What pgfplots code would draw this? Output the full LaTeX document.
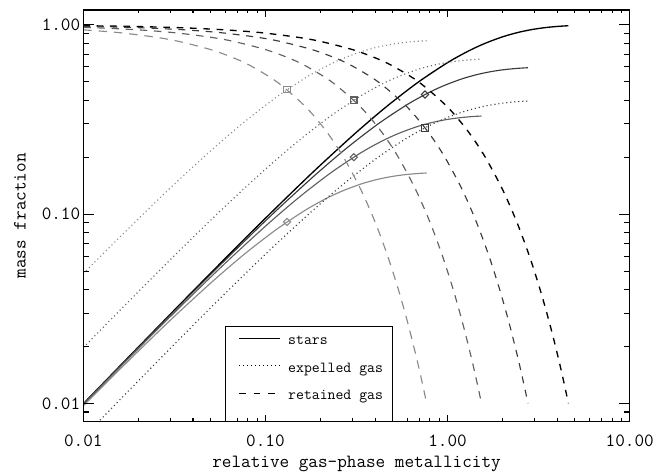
\documentclass[border=0pt]{standalone}
\usepackage{pgfplots}
\usepackage{pgfplotstable}
\pgfplotsset{compat=1.18}

\definecolor{cA}{HTML}{000000}
\definecolor{cB}{HTML}{3A3A3A}
\definecolor{cC}{HTML}{606060}
\definecolor{cD}{HTML}{8A8A8A}
\tikzset{
  dA/.style={dash pattern=on 5pt off 5pt},
  dB/.style={dash pattern=on 5.2pt off 5pt},
  dC/.style={dash pattern=on 5.6pt off 5pt},
  dD/.style={dash pattern=on 6.3pt off 5.2pt},
  dt/.style={dash pattern=on 0.8pt off 2.2pt},
}
\newcommand{\lbl}{\fontsize{14}{16}\selectfont\ttfamily}
\newcommand{\lgd}{\fontsize{11.5}{13}\selectfont\ttfamily}

% eta = 0 : x, stars, retained gas
\pgfplotstableread{
x s g
0.01 0.00995 0.99005
0.015 0.014888 0.985112
0.02 0.019801 0.980199
0.03 0.029554 0.970446
0.04 0.039211 0.960789
0.06 0.058235 0.941765
0.08 0.076884 0.923116
0.1 0.095163 0.904837
0.15 0.139292 0.860708
0.2 0.181269 0.818731
0.3 0.259182 0.740818
0.4 0.32968 0.67032
0.5 0.393469 0.606531
0.7 0.503415 0.496585
1.0 0.632121 0.367879
1.3 0.727468 0.272532
1.6 0.798103 0.201897
2.0 0.864665 0.135335
2.4 0.909282 0.090718
2.8 0.93919 0.06081
3.2 0.959238 0.040762
3.6 0.972676 0.027324
4.0 0.981684 0.018316
4.3 0.986431 0.013569
4.605 0.99 0.01
}\tA

% eta = 2/3 : x, stars, expelled gas, retained gas
\pgfplotstableread{
x s e g
0.01 0.009917 0.006612 0.983471
0.012 0.011881 0.00792 0.980199
0.018 0.017732 0.011822 0.970446
0.024 0.023527 0.015684 0.960789
0.036 0.034941 0.023294 0.941765
0.048 0.04613 0.030754 0.923116
0.06 0.057098 0.038065 0.904837
0.09 0.083575 0.055717 0.860708
0.12 0.108761 0.072508 0.818731
0.18 0.155509 0.103673 0.740818
0.24 0.197808 0.131872 0.67032
0.3 0.236081 0.157388 0.606531
0.42 0.302049 0.201366 0.496585
0.6 0.379273 0.252848 0.367879
0.78 0.436481 0.290987 0.272532
0.96 0.478862 0.319241 0.201897
1.2 0.518799 0.345866 0.135335
1.44 0.545569 0.363713 0.090718
1.68 0.563514 0.375676 0.06081
1.92 0.575543 0.383695 0.040762
2.16 0.583606 0.38907 0.027324
2.4 0.58901 0.392674 0.018316
2.58 0.591859 0.394572 0.013569
2.763 0.594 0.396 0.01
}\tB

% eta = 2
\pgfplotstableread{
x s e g
0.01 0.009851 0.019703 0.970446
0.013333 0.01307 0.026141 0.960789
0.02 0.019412 0.038823 0.941765
0.026667 0.025628 0.051256 0.923116
0.033333 0.031721 0.063442 0.904837
0.05 0.046431 0.092861 0.860708
0.066667 0.060423 0.120846 0.818731
0.1 0.086394 0.172788 0.740818
0.133333 0.109893 0.219787 0.67032
0.166667 0.131156 0.262313 0.606531
0.233333 0.167805 0.33561 0.496585
0.333333 0.21071 0.421414 0.367879
0.433333 0.242489 0.484979 0.272532
0.533333 0.266034 0.532069 0.201897
0.666667 0.288222 0.576443 0.135335
0.8 0.303094 0.606188 0.090718
0.933333 0.313063 0.626127 0.06081
1.066667 0.319746 0.639492 0.040762
1.2 0.324225 0.648451 0.027324
1.333333 0.327228 0.654456 0.018316
1.433333 0.32881 0.657621 0.013569
1.535 0.33 0.66 0.01
}\tC

% eta = 5
\pgfplotstableread{
x s e g
0.01 0.009706 0.048529 0.941765
0.013333 0.012814 0.06407 0.923116
0.016667 0.015861 0.079303 0.904837
0.025 0.023215 0.116077 0.860708
0.033333 0.030212 0.151058 0.818731
0.05 0.043197 0.215985 0.740818
0.066667 0.054947 0.274733 0.67032
0.083333 0.065578 0.327891 0.606531
0.116667 0.083903 0.419513 0.496585
0.166667 0.105354 0.526768 0.367879
0.216667 0.121245 0.606223 0.272532
0.266667 0.133017 0.665086 0.201897
0.333333 0.144111 0.720554 0.135335
0.4 0.151547 0.757735 0.090718
0.466667 0.156532 0.782658 0.06081
0.533333 0.159873 0.799365 0.040762
0.6 0.162113 0.810563 0.027324
0.666667 0.163614 0.81807 0.018316
0.716667 0.164405 0.822026 0.013569
0.7675 0.165 0.825 0.01
}\tD

\begin{document}
\begin{tikzpicture}
\useasboundingbox (-62.5pt,-37pt) rectangle (434.75pt,316.25pt);

\begin{axis}[
  xmode=log, ymode=log, scale only axis,
  width=409.8pt, height=308.8pt,
  xmin=0.01, xmax=10, ymin=0.008, ymax=1.2,
  axis line style={line width=0.9pt},
  tick style={line width=0.8pt, black},
  tick label style={font=\lbl},
  xtick={0.01,0.1,1,10}, xticklabels={0.01,0.10,1.00,10.00},
  minor xtick={0.02,0.03,0.04,0.05,0.06,0.07,0.08,0.09,0.2,0.3,0.4,0.5,0.6,0.7,0.8,0.9,2,3,4,5,6,7,8,9},
  ytick=\empty,
  major tick length=5pt, minor tick length=2.6pt,
  xticklabel style={yshift=-6.6pt},
  xlabel={relative gas-phase metallicity},
  every axis x label/.style={at={(axis description cs:0.5,-0.1101)}, anchor=base, font=\lbl},
  legend style={draw=none, fill=none, at={(rel axis cs:0.2831,0.1273)}, anchor=west,
    inner sep=0pt, row sep=11.3pt, column sep=5.8pt, font=\lgd,
    nodes={inner sep=0pt, text height=7pt, text depth=2.3pt}},
  legend cell align=left,
  legend image code/.code={\draw[#1] (0pt,2.6pt) -- (30.75pt,2.6pt);},
]
% stars
\addplot[cA, line width=1pt, smooth, forget plot] table[x=x,y=s]{\tA};
\addplot[cB, line width=0.85pt, smooth, forget plot] table[x=x,y=s]{\tB};
\addplot[cC, line width=0.85pt, smooth, forget plot] table[x=x,y=s]{\tC};
\addplot[cD, line width=0.85pt, smooth, forget plot] table[x=x,y=s]{\tD};
% expelled gas
\addplot[cB, line width=0.85pt, dt, smooth, forget plot] table[x=x,y=e]{\tB};
\addplot[cC, line width=0.85pt, dt, smooth, forget plot] table[x=x,y=e]{\tC};
\addplot[cD, line width=0.85pt, dt, smooth, forget plot] table[x=x,y=e]{\tD};
% retained gas
\addplot[cA, line width=1pt, dA, smooth, forget plot] table[x=x,y=g]{\tA};
\addplot[cB, line width=0.85pt, dB, smooth, forget plot] table[x=x,y=g]{\tB};
\addplot[cC, line width=0.85pt, dC, smooth, forget plot] table[x=x,y=g]{\tC};
\addplot[cD, line width=0.85pt, dD, smooth, forget plot] table[x=x,y=g]{\tD};
% crossing markers
\addplot[only marks, cD, mark=square, mark size=2.4pt, mark options={solid, line width=0.8pt}, forget plot] coordinates {(0.1314,0.4545)};
\addplot[only marks, cC, mark=square, mark size=2.4pt, mark options={solid, line width=0.8pt}, forget plot] coordinates {(0.3054,0.4)};
\addplot[only marks, cB, mark=square, mark size=2.4pt, mark options={solid, line width=0.8pt}, forget plot] coordinates {(0.7517,0.2857)};
\addplot[only marks, cD, mark=square, mark size=1.9pt, mark options={solid, rotate=45, line width=0.8pt}, forget plot] coordinates {(0.1314,0.0909)};
\addplot[only marks, cC, mark=square, mark size=1.9pt, mark options={solid, rotate=45, line width=0.8pt}, forget plot] coordinates {(0.3054,0.2)};
\addplot[only marks, cB, mark=square, mark size=1.9pt, mark options={solid, rotate=45, line width=0.8pt}, forget plot] coordinates {(0.7517,0.4286)};
% legend frame
\draw[line width=0.7pt] (rel axis cs:0.2593,0) |- (rel axis cs:0.5663,0.2307) -- (rel axis cs:0.5663,0);
\addlegendimage{black, line width=0.9pt}
\addlegendentry{stars}
\addlegendimage{black, line width=0.8pt, dt}
\addlegendentry{expelled gas}
\addlegendimage{black, line width=0.9pt, dash pattern=on 5pt off 6pt}
\addlegendentry{retained gas}
\end{axis}

\begin{axis}[
  xmode=log, ymode=log, scale only axis,
  width=409.8pt, height=308.8pt,
  xmin=0.01, xmax=10, ymin=0.008, ymax=1.2,
  axis line style={line width=0.9pt},
  tick style={line width=0.8pt, black},
  tick label style={font=\lbl},
  xtick=\empty,
  ytick={0.01,0.1,1}, yticklabels={0.01,0.10,1.00},
  minor ytick={0.008,0.009,0.02,0.03,0.04,0.05,0.06,0.07,0.08,0.09,0.2,0.3,0.4,0.5,0.6,0.7,0.8,0.9},
  major tick length=8pt, minor tick length=4.3pt,
  yticklabel style={xshift=1.2pt},
  ylabel={mass fraction},
  every axis y label/.style={at={(axis description cs:-0.1159,0.5)}, rotate=90, anchor=center, font=\lbl},
]
\end{axis}
\end{tikzpicture}
\end{document}
